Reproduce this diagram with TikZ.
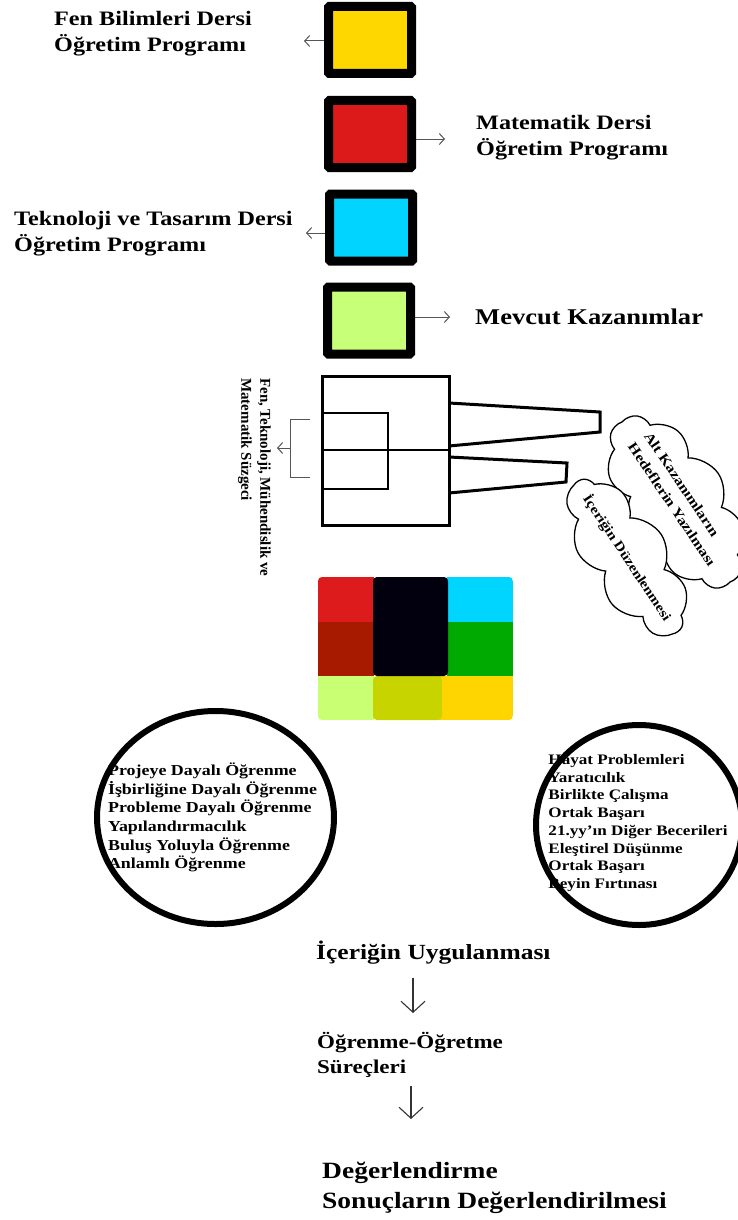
\documentclass[tikz,border=0pt]{standalone}
\usepackage{fontspec}
\setmainfont{Liberation Serif}[FakeStretch=1.18]
\newfontfamily\plainserif{Liberation Serif}
\usetikzlibrary{shapes.geometric,shapes.symbols,arrows.meta,calc}
\definecolor{cyellow}{HTML}{FFD700}
\definecolor{cred}{HTML}{DD1A1A}
\definecolor{ccyan}{HTML}{00D4FF}
\definecolor{clgreen}{HTML}{C8FF78}
\definecolor{gred}{HTML}{DD1A1C}
\definecolor{gdred}{HTML}{A81A00}
\definecolor{gnavy}{HTML}{02000F}
\definecolor{gcyan}{HTML}{00D5FF}
\definecolor{ggreen}{HTML}{00AA00}
\definecolor{glgreen}{HTML}{C8FF73}
\definecolor{gygreen}{HTML}{C8D400}
\definecolor{gyellow}{HTML}{FFD500}
\definecolor{arrgray}{HTML}{555555}
\begin{document}
\begin{tikzpicture}[x=1pt,y=-1pt,
  cbox/.style={draw=black, line width=9pt, rounded corners=1pt, minimum width=83pt, minimum height=67pt, inner sep=0pt, outer sep=4.5pt},
  lab/.style={font=\bfseries\fontsize{20.5}{26}\selectfont, align=left, anchor=west, inner sep=0pt},
  thinarr/.style={draw=arrgray, line width=1pt, -{Straight Barb[length=5pt,width=11pt]}},
  bigarr/.style={draw=black!80, line width=1.1pt, -{Straight Barb[length=11pt,width=24pt]}},
  thick3/.style={line width=3pt, line join=miter},
  cloudbox/.style={cloud, draw, fill=white, line width=1.3pt, cloud ignores aspect, inner sep=0pt},
  cloudtxt/.style={align=left, inner sep=0pt, font=\bfseries\fontsize{13.8}{19.5}\selectfont},
  ring/.style={ellipse, draw, line width=6pt, inner sep=0pt},
  listtxt/.style={align=left, inner sep=0pt, font=\bfseries\fontsize{15.2}{18.6}\selectfont}
]
\useasboundingbox (0,0) rectangle (737,1220);

% coloured boxes
\node[cbox, fill=cyellow] (b1) at (370,40) {};
\node[cbox, fill=cred] (b2) at (370,134) {};
\node[cbox, fill=ccyan] (b3) at (371,227.5) {};
\node[cbox, fill=clgreen] (b4) at (369,320.5) {};

% labels
\node[lab] (t1) at (54,33.5) {Fen Bilimleri Dersi\\Öğretim Programı};
\node[lab] (t2) at (476,138) {Matematik Dersi\\Öğretim Programı};
\node[lab] (t3) at (14,233.5) {Teknoloji ve Tasarım Dersi\\Öğretim Programı};
\node[lab, font=\bfseries\fontsize{22.5}{26}\selectfont] (t4) at (475,317) {Mevcut Kazanımlar};

% arrows from boxes
\coordinate (e1) at (304,41);
\coordinate (e2) at (445,139);
\coordinate (e3) at (306,233);
\coordinate (e4) at (450,317);
\draw[thinarr] (b1.west |- e1) -- (e1);
\draw[thinarr] (b2.east |- e2) -- (e2);
\draw[thinarr] (b3.west |- e3) -- (e3);
\draw[thinarr] (b4.east |- e4) -- (e4);

% filter
\draw[thick3] (322,376) rectangle (449,525);
\draw[line width=1.3pt] (323,413) rectangle (388,489);
\draw[line width=1.3pt] (323,450) -- (449,450);
\draw[thick3] (449,403) -- (600,412) -- (600,432) -- (449,446);
\draw[thick3] (449,457) -- (567,463) -- (566,482) -- (449,493);

% bracket
\coordinate (brs) at (290,448);
\coordinate (bre) at (277,448);
\draw[draw=arrgray, line width=0.9pt] (310,419) -- (290,419) -- (290,477) -- (310,477);
\draw[thinarr] (brs) -- (bre);

\node[font=\plainserif\bfseries\fontsize{15}{19}\selectfont, rotate=-90, anchor=north west, align=left, inner sep=0pt] (filt) at (271,378) {Fen, Teknoloji, Mühendislik ve\\Matematik Süzgeci};

% clouds
\node[cloudbox, cloud puffs=10, cloud puff arc=115, minimum width=196pt, minimum height=102pt, rotate=-56] (c1) at (676,502) {};
\node[cloudbox, cloud puffs=9, cloud puff arc=115, minimum width=180pt, minimum height=82pt, rotate=-56.5] (c2) at (627,557) {};
\node[cloudtxt, rotate=-56] (c1t) at (680,499) {Alt Kazanımların\\Hedeflerin Yazılması};
\node[cloudtxt, font=\bfseries\fontsize{13.2}{19}\selectfont, rotate=-56.5] (c2t) at (627,558) {İçeriğin Düzenlenmesi};

% colour grid
\begin{scope}
\clip[rounded corners=4pt] (318,577) rectangle (513,720);
\fill[gred] (318,577) rectangle (374,622);
\fill[gdred] (318,622) rectangle (374,677);
\fill[gcyan] (447,577) rectangle (513,622);
\fill[ggreen] (447,622) rectangle (513,677);
\fill[glgreen] (318,676) rectangle (374,720);
\fill[gyellow] (430,676) rectangle (513,720);
\fill[gygreen, rounded corners=4pt] (373,676) rectangle (442,720);
\fill[gnavy, rounded corners=4pt] (373,577) rectangle (448,676);
\end{scope}

% ellipses
\node[ring, minimum width=237pt, minimum height=213pt] (r1) at (215.5,817.5) {};
\node[listtxt] (l1) at (212.5,817.5) {Projeye Dayalı Öğrenme\\İşbirliğine Dayalı Öğrenme\\Probleme Dayalı Öğrenme\\Yapılandırmacılık\\Buluş Yoluyla Öğrenme\\Anlamlı Öğrenme};
\node[ring, minimum width=206pt, minimum height=200pt] (r2) at (639,825) {};
\node[listtxt, font=\bfseries\fontsize{14.5}{17.7}\selectfont] (l2) at (638,823) {Hayat Problemleri\\Yaratıcılık\\Birlikte Çalışma\\Ortak Başarı\\21.yy'ın Diğer Becerileri\\Eleştirel Düşünme\\Ortak Başarı\\Beyin Fırtınası};

% bottom flow
\node[lab, font=\bfseries\fontsize{21.6}{26}\selectfont] (u1) at (316,953) {İçeriğin Uygulanması};
\node[lab, font=\bfseries\fontsize{19.5}{25}\selectfont] (u2) at (317,1054.5) {Öğrenme-Öğretme\\Süreçleri};
\node[lab, font=\bfseries\fontsize{23.3}{30}\selectfont] (u3) at (322,1188) {Değerlendirme\\Sonuçların Değerlendirilmesi};
\coordinate (a1s) at (413,978);
\coordinate (a1e) at (413,1013);
\coordinate (a2s) at (411,1086);
\coordinate (a2e) at (411,1119);
\draw[bigarr] (a1s) -- (a1e);
\draw[bigarr] (a2s) -- (a2e);
\end{tikzpicture}
\end{document}
